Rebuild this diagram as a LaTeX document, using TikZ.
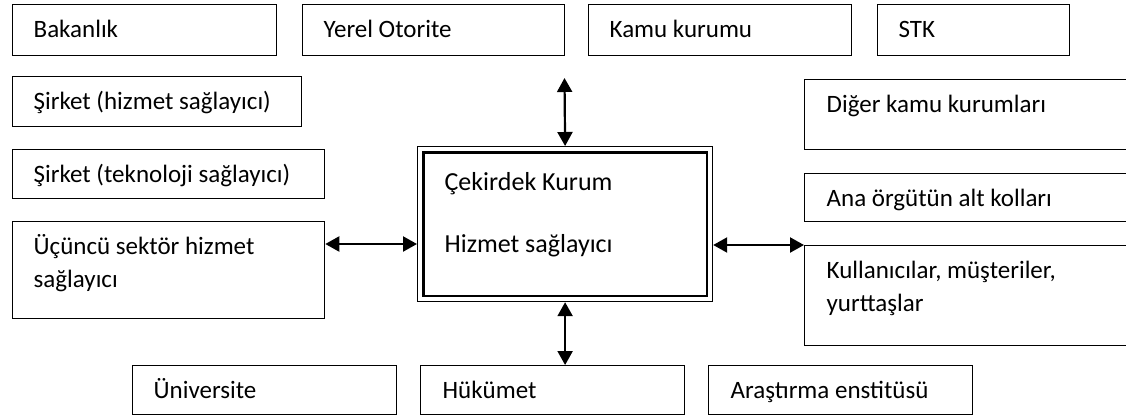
\documentclass[tikz,border=0pt]{standalone}
\usepackage{fontspec}
\setmainfont{Carlito}
\usetikzlibrary{arrows.meta}
% width, height, left padding, first baseline, text
\newcommand\bxt[5]{\parbox[t][#2][t]{#1}{\raggedright\leftskip=#3\relax
  \vspace*{\dimexpr #4-\ht\strutbox\relax}\strut #5}}
\tikzset{
  box/.style={draw, line width=1.3pt, inner sep=0pt, anchor=north west,
    font=\fontsize{25}{33}\selectfont},
  arr/.style={<->, >={Triangle[length=14pt,width=15pt]}, line width=2.2pt}
}
\begin{document}
\begin{tikzpicture}[x=1pt,y=-1pt]
\useasboundingbox (0,0) rectangle (1126,418);
\fill[white] (0,0) rectangle (1126,418);
\clip (0,0) rectangle (1126,418);
% top row
\node[box] (bak) at (12,4)   {\bxt{264pt}{51pt}{21pt}{33pt}{Bakanlık}};
\node[box] (yer) at (302,4)  {\bxt{262pt}{51pt}{21pt}{33pt}{Yerel Otorite}};
\node[box] (kam) at (588,4)  {\bxt{263pt}{51pt}{21pt}{33pt}{Kamu kurumu}};
\node[box] (stk) at (877,4)  {\bxt{192pt}{51pt}{21pt}{33pt}{STK}};
% left column
\node[box] (sh)  at (12,76)  {\bxt{289pt}{50pt}{21pt}{33pt}{Şirket (hizmet sağlayıcı)}};
\node[box] (st)  at (12,149) {\bxt{312pt}{49pt}{21pt}{33pt}{Şirket (teknoloji sağlayıcı)}};
\node[box] (ucu) at (12,221) {\bxt{312pt}{97pt}{21pt}{33pt}{Üçüncü sektör hizmet\\sağlayıcı}};
% right column
\node[box] (dig) at (804,79)  {\bxt{340pt}{70pt}{22pt}{33pt}{Diğer kamu kurumları}};
\node[box] (ana) at (804,173) {\bxt{340pt}{48pt}{22pt}{33pt}{Ana örgütün alt kolları}};
\node[box] (kul) at (804,245) {\bxt{340pt}{100pt}{22pt}{33pt}{Kullanıcılar, müşteriler,\\yurttaşlar}};
% bottom row
\node[box] (uni) at (132,365) {\bxt{264pt}{49pt}{21pt}{33pt}{Üniversite}};
\node[box] (huk) at (420,365) {\bxt{264pt}{49pt}{22pt}{33pt}{Hükümet}};
\node[box] (ara) at (708,365) {\bxt{264pt}{49pt}{22pt}{33pt}{Araştırma enstitüsü}};
% core
\node[box, line width=1.2pt, font=\fontsize{26}{33}\selectfont] (core) at (417,146)
  {\bxt{295pt}{155pt}{27pt}{44pt}{Çekirdek Kurum\\[29pt]Hizmet sağlayıcı}};
\draw[line width=2.4pt] ([shift={(6.5,6.5)}]core.north west) rectangle ([shift={(-6.5,-6.5)}]core.south east);
% connectors
\coordinate (topend) at (564.5,78);
\coordinate (mid) at (0,244);
\draw[arr] (topend) -- (core.north);
\draw[arr] (core.south) -- (core.south |- huk.north);
\draw[arr] (ucu.east |- mid) -- (core.west |- mid);
\draw[arr] (core.east |- kul.north) -- (kul.north west);
\end{tikzpicture}
\end{document}
